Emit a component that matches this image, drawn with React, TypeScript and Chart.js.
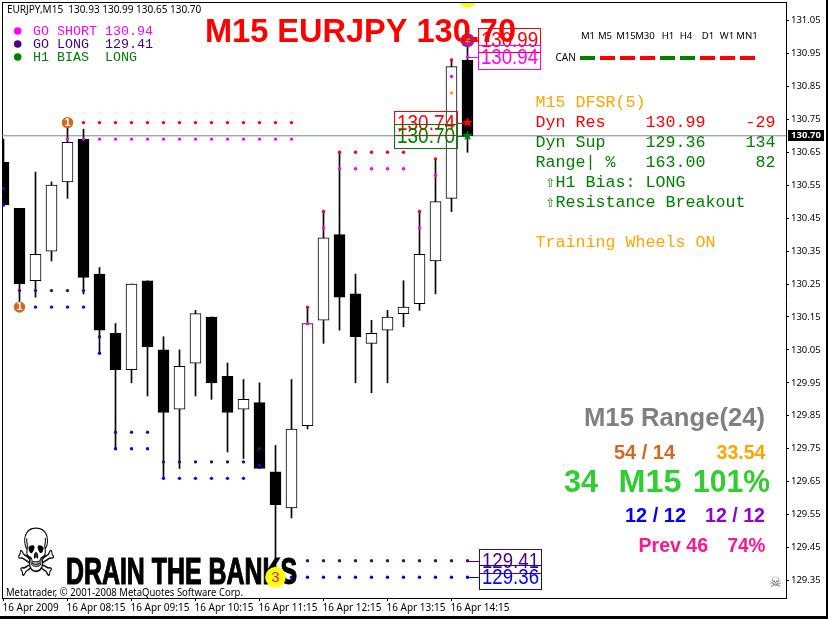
import React, { useEffect, useRef } from "react";
import { Chart, registerables } from "chart.js";

Chart.register(...registerables);

const opens = [130.62,130.48,130.26,130.35,130.56,130.69,130.28,130.10,129.99,130.26,130.05,129.87,130.01,130.15,129.97,129.87,129.89,129.68,129.57,129.82,130.14,130.40,130.22,130.07,130.11,130.16,130.19,130.32,130.51,130.93];
const closes = [130.49,130.25,130.34,130.55,130.68,130.27,130.11,129.99,130.25,130.06,129.86,130.00,130.16,129.95,129.86,129.90,129.69,129.58,129.81,130.13,130.39,130.21,130.09,130.10,130.15,130.18,130.34,130.50,130.91,130.70];
const highs = [130.69,130.48,130.59,130.56,130.74,130.72,130.30,130.13,130.25,130.26,130.09,130.05,130.17,130.15,130.01,129.96,129.95,129.76,129.96,130.18,130.47,130.65,130.28,130.14,130.17,130.26,130.47,130.63,130.93,130.99];
const lows = [130.49,130.18,130.21,130.32,130.51,130.22,130.04,129.75,129.95,129.91,129.66,129.69,129.91,129.90,129.74,129.72,129.69,129.36,129.54,129.81,130.07,130.11,129.95,129.92,129.95,130.12,130.17,130.22,130.47,130.65];

const redDots: [number, number][] = [[5,130.74],[6,130.74],[7,130.74],[8,130.74],[9,130.74],[10,130.74],[11,130.74],[12,130.74],[13,130.74],[14,130.74],[15,130.74],[16,130.74],[17,130.74],[18,130.74],[19,130.18],[20,130.47],[21,130.65],[22,130.65],[23,130.65],[24,130.65],[25,130.65],[26,130.47],[27,130.63],[28,130.93]];
const magentaDots: [number, number][] = [[4,130.69],[5,130.69],[6,130.69],[7,130.69],[8,130.69],[9,130.69],[10,130.69],[11,130.69],[12,130.69],[13,130.69],[14,130.69],[15,130.69],[16,130.69],[17,130.69],[18,130.69],[19,130.13],[20,130.42],[21,130.60],[22,130.60],[23,130.60],[24,130.60],[25,130.60],[26,130.42],[27,130.58],[28,130.88],[29,130.94]];
const orangeDots: [number, number][] = [[28,130.83]];
const indigoDots: [number, number][] = [[0,130.54],[1,130.23],[2,130.23],[3,130.23],[4,130.23],[5,130.23],[6,130.09],[7,129.80],[8,129.80],[9,129.80],[10,129.71],[11,129.71],[12,129.71],[13,129.71],[14,129.71],[15,129.71],[16,129.75],[18,129.41],[19,129.41],[20,129.41],[21,129.41],[22,129.41],[23,129.41],[24,129.41],[25,129.41],[26,129.41],[27,129.41],[28,129.41],[29,129.41]];
const blueDots: [number, number][] = [[0,130.49],[1,130.18],[2,130.18],[3,130.18],[4,130.18],[5,130.18],[6,130.04],[7,129.75],[8,129.75],[9,129.75],[10,129.66],[11,129.66],[12,129.66],[13,129.66],[14,129.66],[15,129.66],[16,129.70],[18,129.36],[19,129.36],[20,129.36],[21,129.36],[22,129.36],[23,129.36],[24,129.36],[25,129.36],[26,129.36],[27,129.36],[28,129.36],[29,129.36]];

const xTickBars = [0,4,8,12,16,20,24,28];
const xTickLabels = ["16 Apr 2009","16 Apr 08:15","16 Apr 09:15","16 Apr 10:15","16 Apr 11:15","16 Apr 12:15","16 Apr 13:15","16 Apr 14:15"];
const yTicks = [131.05,130.95,130.85,130.75,130.65,130.55,130.45,130.35,130.25,130.15,130.05,129.95,129.85,129.75,129.65,129.55,129.45,129.35];
const currentPrice = 130.70;

const timeframes = ["M1","M5","M15","M30","H1","H4","D1","W1","MN1"];
const canStates = ["up","down","down","down","up","up","down","down","down"];
const legendRows = ["GO SHORT 130.94","GO LONG  129.41","H1 BIAS  LONG"];
const dfsrRows = ["M15 DFSR(5)","Dyn Res    130.99    -29","Dyn Sup    129.36    134","Range| %   163.00     82"," \u21E7H1 Bias: LONG"," \u21E7Resistance Breakout"];

const TAHOMA = '"Noto Sans"';
const ARIAL = '"Liberation Sans"';
const MONO = '"Liberation Mono","DejaVu Sans Mono"';

function put(ctx: any, s: string, x: number, y: number, font: string, color: string, align = "left") {
  ctx.font = font; ctx.fillStyle = color; ctx.textAlign = align; ctx.textBaseline = "middle";
  ctx.fillText(s, x, y);
}
function fit(ctx: any, s: string, x: number, y: number, w: number, font: string, color: string) {
  ctx.save();
  ctx.font = font; ctx.fillStyle = color; ctx.textAlign = "left"; ctx.textBaseline = "middle";
  const m = ctx.measureText(s).width;
  ctx.translate(x, y); ctx.scale(w / m, 1);
  ctx.fillText(s, 0, 0);
  ctx.restore();
}
function star(ctx: any, x: number, y: number, r: number, color: string) {
  ctx.beginPath();
  for (let i = 0; i < 10; i++) {
    const a = -Math.PI / 2 + (i * Math.PI) / 5;
    const q = i % 2 ? r * 0.4 : r;
    ctx.lineTo(x + q * Math.cos(a), y + q * Math.sin(a));
  }
  ctx.closePath(); ctx.fillStyle = color; ctx.fill();
}

const overlay = {
  id: "overlay",
  beforeDraw(c: any) {
    const ctx = c.ctx;
    ctx.save();
    ctx.fillStyle = "#fff"; ctx.fillRect(0, 0, 828, 619);
    ctx.fillStyle = "#000"; ctx.fillRect(0, 616, 828, 3); ctx.fillRect(826, 0, 2, 619);
    ctx.fillRect(2, 2, 785, 1); ctx.fillRect(2, 2, 1, 597);
    ctx.restore();
  },
  afterDatasetsDraw(c: any) {
    const ctx = c.ctx; const X = c.scales.x; const Y = c.scales.y;
    ctx.save();
    const last = closes.length - 1;
    const xl = X.getPixelForValue(last);

    // watermark
    ctx.save();
    ctx.translate(36, 553); ctx.scale(0.8, 1.15);
    put(ctx, "\u2620", 0, 5, '58px "DejaVu Sans"', "#000", "center");
    ctx.restore();
    ctx.save();
    ctx.lineWidth = 1.2; ctx.strokeStyle = "#000";
    ctx.translate(66, 573.5);
    ctx.font = `bold 37px ${ARIAL}`; ctx.textBaseline = "middle"; ctx.textAlign = "left"; ctx.fillStyle = "#000";
    const dw = ctx.measureText("DRAIN THE BANKS").width;
    ctx.scale(231 / dw, 1);
    ctx.fillText("DRAIN THE BANKS", 0, 0); ctx.strokeText("DRAIN THE BANKS", 0, 0);
    ctx.restore();
    fit(ctx, "Metatrader, \u00A9 2001-2008 MetaQuotes Software Corp.", 6, 593, 237, `10px ${TAHOMA}`, "#000");

    // badges
    const badge = (i: number, p: number, r: number, bg: string, t: string, fg: string, f: string) => {
      const x = X.getPixelForValue(i), y = Y.getPixelForValue(p);
      ctx.beginPath(); ctx.arc(x, y, r, 0, Math.PI * 2); ctx.fillStyle = bg; ctx.fill();
      if (t) put(ctx, t, x, y + 0.5, f, fg, "center");
    };
    badge(1, 130.18, 5.7, "#D2691E", "1", "#fff", `bold 10px ${ARIAL}`);
    badge(4, 130.74, 5.7, "#D2691E", "1", "#fff", `bold 10px ${ARIAL}`);
    badge(17, 129.36, 10.3, "#FFFF00", "3", "#D0208F", `15px ${ARIAL}`);
    ctx.save();
    ctx.beginPath(); ctx.rect(3, 3, 780, 20); ctx.clip();
    badge(last, 131.12, 10, "#FFFF00", "", "", "");
    ctx.restore();
    badge(last, highs[last], 7, "#A8208F", "", "", "");
    badge(last, highs[last], 2.5, "#D9860F", "", "", "");

    // price boxes
    const box = (p: number, t: string, color: string, x0: number, w: number) => {
      const y = Y.getPixelForValue(p);
      ctx.strokeStyle = color; ctx.lineWidth = 1;
      ctx.strokeRect(x0 + 0.5, Math.round(y) - 11.5, w, 24);
      ctx.beginPath();
      const ly = Math.round(y) + 0.5;
      if (x0 > xl) { ctx.moveTo(xl, ly); ctx.lineTo(x0, ly); } else { ctx.moveTo(x0 + w, ly); ctx.lineTo(xl, ly); }
      ctx.stroke();
      fit(ctx, t, x0 + 3, y + 1, w - 5, `22px ${ARIAL}`, color);
    };
    box(130.99, "130.99", "#FF0000", 478, 62);
    box(130.94, "130.94", "#FF00FF", 478, 62);
    box(130.74, "130.74", "#FF0000", 394, 63);
    box(130.70, "130.70", "#008000", 394, 63);
    box(129.41, "129.41", "#4B0082", 479, 62);
    box(129.36, "129.36", "#0000FF", 479, 62);
    star(ctx, xl, Y.getPixelForValue(130.74), 5.5, "#FF0000");
    star(ctx, xl, Y.getPixelForValue(currentPrice), 5.5, "#008000");

    // headline
    put(ctx, "EURJPY,M15  130.93 130.99 130.65 130.70", 7, 10.5, `10px ${TAHOMA}`, "#000");
    fit(ctx, "M15 EURJPY 130.70", 205, 33, 311, `bold 33.5px ${ARIAL}`, "#FF0000");

    // legend
    const lc = ["#FF00FF", "#4B0082", "#008000"];
    legendRows.forEach((s, i) => {
      const y = 31 + i * 13;
      ctx.beginPath(); ctx.arc(17.7, y, 3.8, 0, Math.PI * 2); ctx.fillStyle = lc[i]; ctx.fill();
      put(ctx, s, 33, y, `13.33px ${MONO}`, lc[i]);
    });

    // timeframe strip
    const tfx = [588, 605, 626, 645, 668, 686, 708, 727, 747];
    timeframes.forEach((t, i) => put(ctx, t, tfx[i], 36.5, `9.6px ${TAHOMA}`, "#000", "center"));
    put(ctx, "CAN", 555.5, 58, `10px ${TAHOMA}`, "#000");
    canStates.forEach((s, i) => {
      ctx.fillStyle = s === "up" ? "#008000" : "#FF0000";
      ctx.fillRect(580 + i * 20, 56, 15, 4);
    });

    // DFSR block
    const dc = ["#FFA500", "#FF0000", "#008000", "#008000", "#008000", "#008000"];
    const dy = [103, 123, 143, 163, 183, 203];
    dfsrRows.forEach((s, i) => put(ctx, s, 535.5, dy[i], `16.67px ${MONO}`, dc[i]));
    put(ctx, "Training Wheels ON", 535.5, 243, `16.67px ${MONO}`, "#FFA500");

    // range block
    fit(ctx, "M15 Range(24)", 584, 419, 181, `bold 25px ${ARIAL}`, "#808080");
    fit(ctx, "54 / 14", 614, 453, 61, `bold 20px ${ARIAL}`, "#D2691E");
    fit(ctx, "33.54", 716.5, 453, 49, `bold 20px ${ARIAL}`, "#FFA500");
    fit(ctx, "34", 564, 483, 34, `bold 32px ${ARIAL}`, "#32CD32");
    fit(ctx, "M15", 618.5, 483, 63, `bold 32px ${ARIAL}`, "#32CD32");
    fit(ctx, "101%", 693, 483, 77, `bold 32px ${ARIAL}`, "#32CD32");
    fit(ctx, "12 / 12", 625, 516, 61, `bold 20px ${ARIAL}`, "#0000FF");
    fit(ctx, "12 / 12", 705, 516, 60, `bold 20px ${ARIAL}`, "#9400D3");
    fit(ctx, "Prev 46", 638.5, 546, 69.5, `bold 20px ${ARIAL}`, "#FF1493");
    fit(ctx, "74%", 727.5, 546, 38, `bold 20px ${ARIAL}`, "#FF1493");
    put(ctx, "\u2620", 775.5, 583.5, '14px "DejaVu Sans"', "#555", "center");

    // current price tag
    const py = Y.getPixelForValue(currentPrice);
    ctx.fillStyle = "#000"; ctx.fillRect(788, Math.round(py) - 6, 36, 11);
    put(ctx, currentPrice.toFixed(2), 806, Math.round(py) - 0.5, `bold 9.5px ${TAHOMA}`, "#fff", "center");
    ctx.restore();
  },
};

const dots = (data: [number, number][], color: string, radius = 1.7) => ({
  type: "line" as const,
  data: data.map(([x, y]) => ({ x, y })),
  showLine: false,
  pointRadius: radius,
  pointBackgroundColor: color,
  pointBorderWidth: 0,
  order: 1,
});

export default function App() {
  const ref = useRef<HTMLCanvasElement>(null);
  useEffect(() => {
    const bars = opens.map((_, i) => i);
    const chart = new Chart(ref.current!, {
      type: "bar",
      data: {
        datasets: [
          {
            type: "line",
            data: [{ x: -1, y: currentPrice }, { x: 60, y: currentPrice }],
            borderColor: "#778899",
            borderWidth: 1,
            pointRadius: 0,
            order: 4,
          },
          {
            data: bars.map((i) => ({ x: i, y: [lows[i], highs[i]] })),
            backgroundColor: "#000",
            barThickness: 1,
            grouped: false,
            order: 3,
          },
          {
            data: bars.map((i) => ({ x: i, y: [opens[i], closes[i]] })),
            backgroundColor: bars.map((i) => (closes[i] >= opens[i] ? "#fff" : "#000")),
            borderColor: "#000",
            borderWidth: 1,
            borderSkipped: false,
            barThickness: 11,
            grouped: false,
            order: 2,
          },
          dots(redDots, "#FF0000"),
          dots(magentaDots, "#FF00FF"),
          dots(orangeDots, "#FFA500"),
          dots(indigoDots, "#4B0082"),
          dots(blueDots, "#0000FF"),
        ] as any,
      },
      options: {
        responsive: false,
        animation: false,
        events: [],
        layout: { autoPadding: false, padding: { left: 2, top: 2, right: 0, bottom: 0 } },
        plugins: { legend: { display: false }, tooltip: { enabled: false } },
        scales: {
          x: {
            type: "linear",
            offset: false,
            min: (2 - 3.5) / 16,
            max: (786 - 3.5) / 16,
            border: { color: "#000", width: 1 },
            grid: { offset: false, drawOnChartArea: false, tickLength: 3, tickColor: "#000" },
            afterBuildTicks: (s: any) => { s.ticks = xTickBars.map((value) => ({ value })); },
            afterFit: (s: any) => { s.height = 21; s.paddingLeft = 0; s.paddingRight = 0; },
            ticks: {
              color: "#000",
              font: { family: "Noto Sans", size: 10 },
              align: "start",
              labelOffset: -1,
              padding: 1,
              autoSkip: false,
              maxRotation: 0,
              callback: (v: any) => xTickLabels[xTickBars.indexOf(Number(v))],
            },
          },
          y: {
            type: "linear",
            position: "right",
            max: 131.05 - (2 - 20.5) / 329.4,
            min: 131.05 - (598 - 20.5) / 329.4,
            border: { color: "#000", width: 1 },
            grid: { drawOnChartArea: false, tickLength: 3, tickColor: "#000" },
            afterBuildTicks: (s: any) => { s.ticks = yTicks.map((value) => ({ value })); },
            afterFit: (s: any) => { s.width = 42; s.paddingTop = 0; s.paddingBottom = 0; },
            ticks: {
              color: "#000",
              font: { family: "Noto Sans", size: 9.5 },
              padding: 2,
              autoSkip: false,
              callback: (v: any) => Number(v).toFixed(2),
            },
          } as any,
        },
      } as any,
      plugins: [overlay],
    });
    return () => chart.destroy();
  }, []);
  return (
    <div style={{ position: "fixed", left: 0, top: 0, width: 828, height: 619 }}>
      <canvas ref={ref} width={828} height={619} style={{ display: "block" }} />
    </div>
  );
}
